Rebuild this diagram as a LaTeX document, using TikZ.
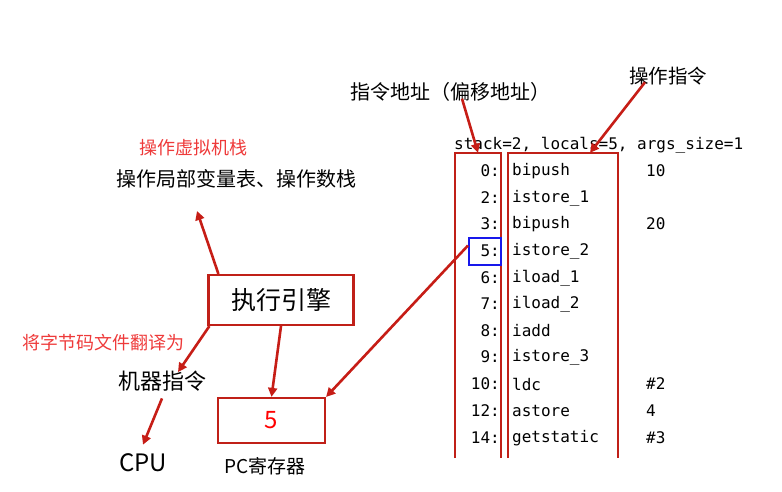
\documentclass[tikz,border=0pt]{standalone}
\usepackage{fontspec}
\setmainfont{Noto Sans CJK SC}
\setmonofont{DejaVu Sans Mono}
\usetikzlibrary{arrows.meta}
\definecolor{boxred}{RGB}{192,32,24}
\definecolor{notered}{RGB}{238,58,58}
\definecolor{curblue}{RGB}{24,24,235}

\begin{document}
\begin{tikzpicture}[x=1pt,y=-1pt,
  txt/.style={inner sep=1pt,font=\fontsize{20}{24}\selectfont},
  note/.style={inner sep=1pt,text=notered,font=\fontsize{18}{22}\selectfont},
  box/.style={draw=boxred,line width=2.2pt,inner sep=0pt},
  frame/.style={boxred,line width=2.2pt},
  code/.style={inner sep=0pt,font=\ttfamily\fontsize{16}{18}\selectfont},
  arr/.style={-{Triangle[length=9pt,width=9pt]},line width=2.6pt,boxred!90!red}]
\useasboundingbox (0,0) rectangle (782,492);
% left part
\node[note](vm) at (193,148){操作虚拟机栈};
\node[txt](ops) at (236,179){操作局部变量表、操作数栈};
\node[box,minimum width=145pt,minimum height=50pt,font=\fontsize{25}{28}\selectfont](eng) at (281,300){执行引擎};
\node[note](tr) at (103,343){将字节码文件翻译为};
\node[txt,font=\fontsize{22}{26}\selectfont](mi) at (162,381){机器指令};
\node[txt,font=\fontsize{24}{28}\selectfont](cpu) at (143,463){CPU};
\node[box,minimum width=107pt,minimum height=45pt,text=red,font=\fontsize{24}{28}\selectfont](pc) at (271.5,420.5){5};
\node[txt,font=\fontsize{19}{22}\selectfont](pcl) at (265,466){PC寄存器};
% right part
\node[txt,font=\fontsize{20}{22}\selectfont](addr) at (450,92){指令地址（偏移地址）};
\node[txt,font=\fontsize{19.5}{22}\selectfont](opc) at (668,76){操作指令};
\node[code,anchor=west](hd) at (454,145){stack=2, locals=5, args\_size=1};
\node[minimum width=46pt,minimum height=305pt,inner sep=0pt](offs) at (478,305.5){};
\node[minimum width=110pt,minimum height=305pt,inner sep=0pt](ins) at (563,305.5){};
\draw[frame] (offs.south west) |- (offs.north east) -- (offs.south east);
\draw[frame] (ins.south west) |- (ins.north east) -- (ins.south east);
\node[draw=curblue,line width=2pt,minimum width=32pt,minimum height=27pt,inner sep=0pt](cur) at (485,251.5){};
% listing
\node[code,anchor=east] at (500,171){0:}; \node[code,anchor=west] at (512,171){bipush}; \node[code,anchor=west] at (646,171){10};
\node[code,anchor=east] at (500,198){2:}; \node[code,anchor=west] at (512,198){istore\_1};
\node[code,anchor=east] at (500,224){3:}; \node[code,anchor=west] at (512,224){bipush}; \node[code,anchor=west] at (646,224){20};
\node[code,anchor=east] at (500,251){5:}; \node[code,anchor=west] at (512,251){istore\_2};
\node[code,anchor=east] at (500,278){6:}; \node[code,anchor=west] at (512,278){iload\_1};
\node[code,anchor=east] at (500,304){7:}; \node[code,anchor=west] at (512,304){iload\_2};
\node[code,anchor=east] at (500,331){8:}; \node[code,anchor=west] at (512,331){iadd};
\node[code,anchor=east] at (500,357){9:}; \node[code,anchor=west] at (512,357){istore\_3};
\node[code,anchor=east] at (500,384){10:}; \node[code,anchor=west] at (512,384){ldc}; \node[code,anchor=west] at (646,384){\#2};
\node[code,anchor=east] at (500,411){12:}; \node[code,anchor=west] at (512,411){astore}; \node[code,anchor=west] at (646,411){4};
\node[code,anchor=east] at (500,438){14:}; \node[code,anchor=west] at (512,438){getstatic}; \node[code,anchor=west] at (646,438){\#3};
% arrows
\coordinate (t1) at (197,211);
\coordinate (t2) at (178,372);
\draw[arr] ([xshift=11pt]eng.north west) -- (t1);
\draw[arr] ([xshift=2pt]eng.south west) -- (t2);
\draw[arr] ([yshift=-6pt]mi.south) -- ([yshift=8pt]cpu.north);
\draw[arr] (eng.south) -- (pc.north);
\draw[arr] ([yshift=6pt]cur.west) -- (pc.north east);
\draw[arr] ([xshift=12pt,yshift=4pt]addr.south) -- (offs.north);
\draw[arr] ([xshift=-23pt,yshift=4pt]opc.south) -- ([xshift=27pt]ins.north);
\end{tikzpicture}
\end{document}
